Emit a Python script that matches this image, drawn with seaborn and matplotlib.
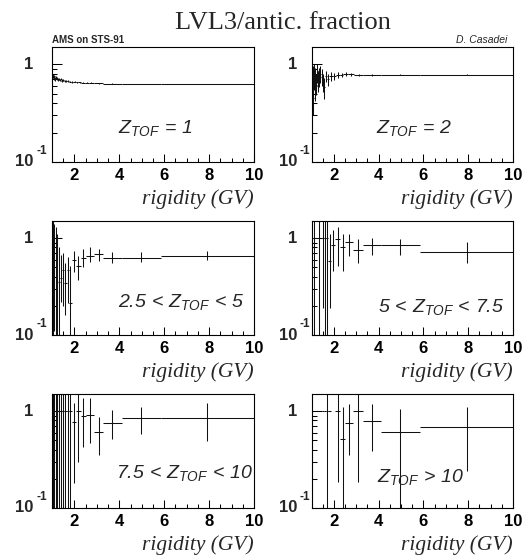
import numpy as np
import matplotlib
matplotlib.use("Agg")
import matplotlib.pyplot as plt
from matplotlib.ticker import MultipleLocator, LogLocator, NullFormatter
import seaborn as sns

sns.set_theme(style="ticks")
plt.rcParams.update({
    "font.family": ["Liberation Sans", "DejaVu Sans"],
    "mathtext.fontset": "custom",
    "mathtext.it": "Liberation Sans:italic",
    "mathtext.rm": "Liberation Sans:italic",
    "mathtext.bf": "Liberation Sans:bold",
    "axes.linewidth": 0.8,
    "axes.edgecolor": "black",
})

nan = np.nan

# ---------------- data ----------------
title = "LVL3/antic. fraction"
xlabel = "rigidity (GV)"
xtick_vals = [2, 4, 6, 8, 10]
xtick_labels = ["2", "4", "6", "8", "10"]
panel_labels = [r"$Z_{TOF}\,=\,1$", r"$Z_{TOF}\,=\,2$", r"$2.5\,<\,Z_{TOF}\,<\,5$",
                r"$5\,<\,Z_{TOF}\,<\,7.5$", r"$7.5\,<\,Z_{TOF}\,<\,10$", r"$Z_{TOF}\,>\,10$"]

# Z = 1 (fine binning)
edges_z1 = [1.00, 1.03, 1.06, 1.09, 1.12, 1.15, 1.19, 1.23, 1.27, 1.32, 1.37, 1.42, 1.48,
            1.54, 1.61, 1.68, 1.76, 1.85, 1.95, 2.06, 2.18, 2.31, 2.46, 2.64, 2.86, 3.29,
            4.10, 5.85, 10.0]
frac_z1 = [0.74, 0.76, 0.72, 0.75, 0.71, 0.73, 0.72, 0.70, 0.71, 0.69, 0.70, 0.68, 0.69,
           0.68, 0.67, 0.675, 0.665, 0.66, 0.665, 0.655, 0.655, 0.65, 0.65, 0.645, 0.64,
           0.635, 0.628, 0.627]
err_z1 = [0.035, 0.035, 0.03, 0.03, 0.03, 0.025, 0.025, 0.02, 0.02, 0.02, 0.018, 0.018,
          0.015, 0.015, 0.014, 0.013, 0.012, 0.012, 0.011, 0.01, 0.01, 0.01, 0.009, 0.009,
          0.008, 0.006, 0.005, 0.004]

# Z = 2
edges_z2 = [1.00, 1.03, 1.06, 1.09, 1.12, 1.15, 1.19, 1.23, 1.27, 1.32, 1.37, 1.42, 1.48,
            1.54, 1.61, 1.68, 1.76, 1.94, 2.11, 2.26, 2.42, 2.64, 2.92, 3.29, 4.10, 5.85, 10.0]
frac_z2 = [0.55, 0.70, 0.45, 0.80, 0.60, 0.72, 0.62, 0.85, 0.68, 0.75, 0.80, 0.74, 0.65,
           0.58, 0.76, 0.70, 0.76, 0.75, 0.78, 0.78, 0.79, 0.785, 0.78, 0.775, 0.78, 0.78]
low_z2 = [0.35, 0.45, 0.30, 0.55, 0.42, 0.55, 0.48, 0.65, 0.52, 0.58, 0.64, 0.60, 0.52,
          0.44, 0.66, 0.60, 0.68, 0.69, 0.73, 0.74, 0.755, 0.76, 0.76, 0.76, 0.77, 0.775]
high_z2 = [0.80, 0.95, 0.65, 1.00, 0.82, 0.92, 0.80, 1.00, 0.85, 0.92, 0.96, 0.90, 0.80,
           0.72, 0.86, 0.80, 0.84, 0.81, 0.83, 0.82, 0.825, 0.81, 0.80, 0.79, 0.79, 0.785]

# coarser binning for the higher charges
edges_hz = [1.00, 1.07, 1.14, 1.21, 1.28, 1.35, 1.45, 1.55, 1.65, 1.75, 1.87, 2.06, 2.27,
            2.50, 2.86, 3.29, 4.10, 5.85, 10.0]

frac_z3 = [1.0, 1.0, 0.6, 1.0, 0.35, 0.39, 0.47, 0.34, 0.47, 0.215, 0.59, 0.52, 0.62,
           0.66, 0.68, 0.63, 0.63, 0.66]
low_z3 = [0.01, 0.11, 0.05, 0.05, 0.09, 0.22, 0.20, 0.16, 0.215, 0.08, 0.45, 0.37, 0.50,
          0.57, 0.58, 0.55, 0.57, 0.59]
high_z3 = [3.0, 1.41, 1.3, 1.11, 0.815, 0.67, 0.70, 0.55, 0.645, 0.51, 0.73, 0.66, 0.78,
           0.80, 0.78, 0.71, 0.71, 0.73]

frac_z4 = [1.0, 1.0, 1.0, 1.0, 1.0, 1.0, 1.0, 1.0, 1.0, 0.58, 0.84, 0.97, 0.80, 0.91,
           0.76, 0.84, 0.84, 0.72]
low_z4 = [1.0, 0.01, 1.0, 1.0, 0.01, 1.0, 0.19, 0.01, 0.01, 0.19, 0.46, 0.52, 0.46, 0.65,
          0.55, 0.67, 0.67, 0.55]
high_z4 = [1.0, 3.0, 1.0, 1.0, 3.0, 1.0, 3.0, 3.0, 3.0, 1.1, 1.2, 1.3, 1.11, 1.11,
           0.98, 1.0, 0.98, 0.92]

frac_z5 = [1.0, 1.0, 1.0, 1.0, 1.0, 1.0, 1.0, 1.0, 1.0, 1.0, 0.77, 1.0, 0.895, 0.91,
           0.61, 0.75, 0.84, 0.855]
low_z5 = [0.01, 0.01, 0.01, 0.01, 0.01, 0.01, 0.01, 0.01, 0.01, 0.01, 0.18, 0.30, 0.43,
          0.47, 0.356, 0.52, 0.58, 0.486]
high_z5 = [3.0, 3.0, 3.0, 3.0, 3.0, 3.0, 3.0, 3.0, 3.0, 3.0, 1.2, 3.0, 1.35, 1.37,
           0.875, 1.02, 1.09, 1.2]

frac_z6 = [nan, nan, nan, nan, nan, nan, 1.0, 1.0, 1.0, 1.0, nan, 1.0, 0.51, 0.76, 1.0,
           0.79, 0.61, 0.68]
low_z6 = [nan, nan, nan, nan, nan, nan, 1.0, 1.0, 0.01, 1.0, nan, 0.185, 0.05, 0.35,
          0.185, 0.39, 0.05, 0.24]
high_z6 = [nan, nan, nan, nan, nan, nan, 1.0, 1.0, 3.0, 1.0, nan, 3.0, 1.1, 1.17, 3.0,
           1.17, 1.05, 1.1]

panels = [
    (edges_z1, frac_z1, [v - e for v, e in zip(frac_z1, err_z1)], [v + e for v, e in zip(frac_z1, err_z1)]),
    (edges_z2, frac_z2, low_z2, high_z2),
    (edges_hz, frac_z3, low_z3, high_z3),
    (edges_hz, frac_z4, low_z4, high_z4),
    (edges_hz, frac_z5, low_z5, high_z5),
    (edges_hz, frac_z6, low_z6, high_z6),
]

# --------------- layout ---------------
W, H = 528, 559
fig = plt.figure(figsize=(W / 100, H / 100), dpi=100)
col_left = [52 / W, 311.5 / W]
col_w = [202 / W, 201.5 / W]
row_bottom = [1 - 162 / H, 1 - 335 / H, 1 - 508 / H]
row_h = [115 / H, 114 / H, 114 / H]

label_pos = [(0.327, 0.25), (0.32, 0.25), (0.327, 0.246),
             (0.33, 0.204), (0.318, 0.263), (0.325, 0.23)]
ylab_x = [(-0.094, -0.079), (-0.072, -0.062)]

for i, (edges, vals, lo, hi) in enumerate(panels):
    r, c = divmod(i, 2)
    ax = fig.add_axes([col_left[c], row_bottom[r], col_w[c], row_h[r]])
    e = np.asarray(edges, float)
    v = np.asarray(vals, float)
    lo = np.asarray(lo, float)
    hi = np.asarray(hi, float)
    ax.errorbar((e[:-1] + e[1:]) / 2, v, xerr=(e[1:] - e[:-1]) / 2,
                yerr=np.vstack([v - lo, hi - v]), fmt="none",
                ecolor="#111111", elinewidth=0.75, capsize=0)
    ax.set_xlim(1, 10)
    ax.set_yscale("log")
    ax.set_ylim(0.1, 1.5)
    ax.set_xticks(xtick_vals)
    ax.set_xticklabels(xtick_labels, fontsize=12, fontweight="bold")
    ax.xaxis.set_minor_locator(MultipleLocator(0.5))
    ax.yaxis.set_major_locator(LogLocator(base=10))
    ax.yaxis.set_minor_locator(LogLocator(base=10, subs=np.arange(2, 10)))
    ax.yaxis.set_minor_formatter(NullFormatter())
    ax.tick_params(which="both", direction="in", top=False, right=False, colors="black")
    ax.tick_params(axis="x", which="major", length=5.8, width=0.75, pad=4)
    ax.tick_params(axis="x", which="minor", length=2.9, width=0.75)
    ax.tick_params(axis="y", which="major", length=7.2, width=0.75, labelleft=False)
    ax.tick_params(axis="y", which="minor", length=3.6, width=0.75)
    for s in ax.spines.values():
        s.set_color("black")
        s.set_linewidth(0.8)
    tr = ax.get_yaxis_transform()
    xr, xs = ylab_x[c]
    ax.text(xr, 1.0, "1", transform=tr, ha="right", va="center", fontsize=12, fontweight="bold")
    ax.text(xr, 0.1, "10", transform=tr, ha="right", va="center", fontsize=12, fontweight="bold")
    ax.text(xs, 0.13, "-1", transform=tr, ha="left", va="center", fontsize=8.5, fontweight="bold")
    ax.text(1.0, -0.365, xlabel, transform=ax.transAxes, ha="right", va="baseline",
            family="Liberation Serif", style="italic", fontsize=15.5)
    lx, ly = label_pos[i]
    ax.text(lx, ly, panel_labels[i], transform=ax.transAxes, ha="left", va="baseline", fontsize=14)
    if i == 0:
        ax.text(0.0, 1.032, "AMS on STS-91", transform=ax.transAxes, ha="left", va="baseline",
                fontsize=7, fontweight="bold")
    if i == 1:
        ax.text(0.97, 1.032, "D. Casadei", transform=ax.transAxes, ha="right", va="baseline",
                fontsize=7.5, style="italic")

fig.text(0.536, 0.949, title, ha="center", va="baseline", family="Liberation Serif", fontsize=19)
fig.savefig("out.png", dpi=100)
